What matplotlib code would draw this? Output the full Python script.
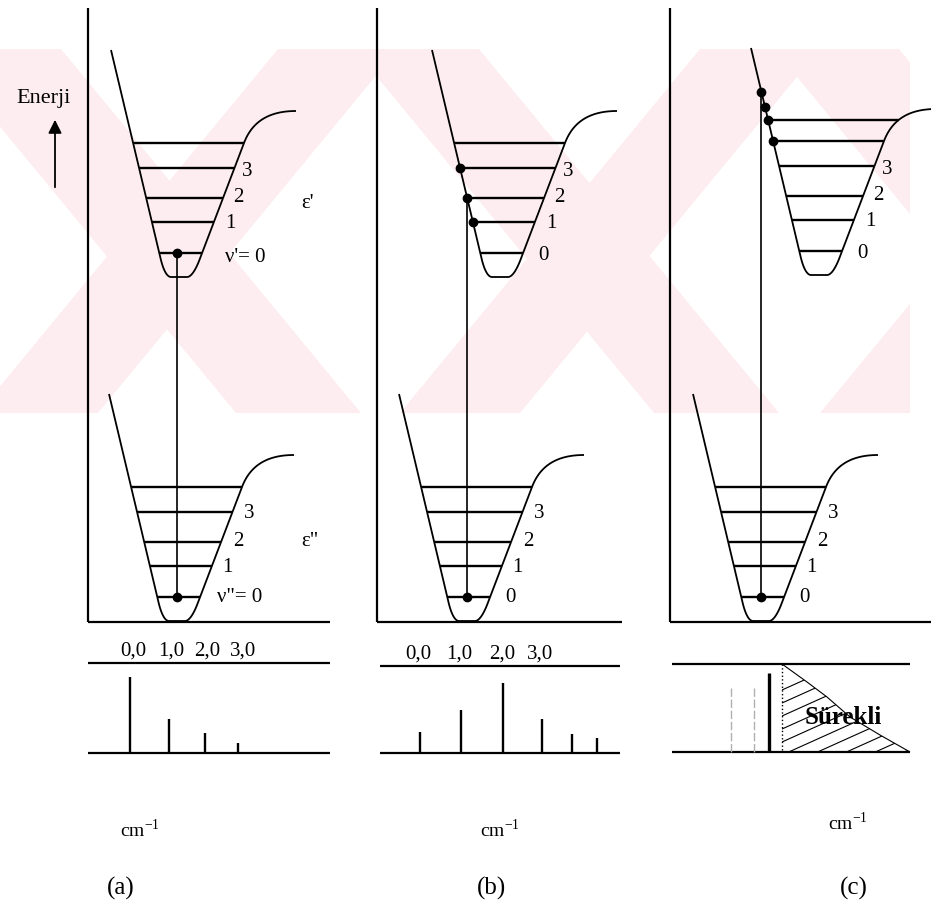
import numpy as np
import matplotlib.pyplot as plt
from matplotlib.patches import Polygon, Rectangle

plt.rcParams['font.family'] = ['Liberation Serif', 'DejaVu Serif']
plt.rcParams['mathtext.fontset'] = 'stix'

# vibrational level heights above the well minimum (px)
level_h = [24, 55, 79, 109, 134]
level_h_c_extra = 155
level_labels = ['0', '1', '2', '3']

# panel positions
axis_x = [88, 377, 670]
panel_right = [330, 622, 931]
upper_cx = [179, 500, 819]
upper_by = [277, 277, 275]
lower_cx = [177, 467, 761]
lower_by = 621

# dots on the upper curve where the vertical transition lands
dots_b = [55, 79, 109]
dots_c = [183, 168, 155, 134]

# spectra (line positions and intensities)
band_labels = ['0,0', '1,0', '2,0', '3,0']
band_label_x_a = [133, 171, 207, 243]
band_label_x_b = [418, 459, 502, 540]
spec_a_x = [130, 169, 205, 238]
spec_a_h = [76, 34, 20, 10]
spec_b_x = [420, 461, 503, 542, 572, 597]
spec_b_h = [21, 43, 70, 34, 19, 15]
spec_c_x = 769
spec_c_h = 79
spec_c_weak_x = [731, 754]
spec_c_weak_h = [64, 64]
cont_x = [782, 807, 827, 850, 880, 910]
cont_h = [88, 70, 55, 35, 17, 0]

# watermark bands (top-left x)
wm_down_right = [-64, 354, 774]
wm_down_left = [278, 700, 1120]


def bez(p0, p1, p2, p3, n=40):
    t = np.linspace(0, 1, n)[:, None]
    p0, p1, p2, p3 = map(np.array, (p0, p1, p2, p3))
    return (1 - t) ** 3 * p0 + 3 * (1 - t) ** 2 * t * p1 + 3 * (1 - t) * t ** 2 * p2 + t ** 3 * p3


def well():
    seg = [np.array([[-68, 227], [-18.3, 18]]),
           bez((-18.3, 18), (-16.5, 10.5), (-13, 0), (-8, 0)),
           np.array([[-8, 0], [8, 0]]),
           bez((8, 0), (13, 0), (17.8, 10), (20.8, 18)),
           np.array([[20.8, 18], [65, 134]]),
           bez((65, 134), (73.7, 157), (92, 166), (117, 166))]
    return np.vstack(seg)


shape = well()
left = shape[shape[:, 0] <= -8][::-1]
right = shape[shape[:, 0] >= 8]


def ends(h):
    return np.interp(h, left[:, 1], left[:, 0]), np.interp(h, right[:, 1], right[:, 0])


fig = plt.figure(figsize=(9.31, 9.08), dpi=100)
ax = fig.add_axes([0, 0, 1, 1])
ax.set_xlim(0, 931)
ax.set_ylim(908, 0)
ax.axis('off')

# faint watermark
pink = '#fdedf0'
clip = Rectangle((0, 49), 910, 364, transform=ax.transData)
for x0 in wm_down_right:
    p = Polygon([(x0, 49), (x0 + 125, 49), (x0 + 425, 413), (x0 + 300, 413)],
                fc=pink, ec='none', zorder=0)
    ax.add_patch(p)
    p.set_clip_path(clip)
for x0 in wm_down_left:
    p = Polygon([(x0, 49), (x0 + 120, 49), (x0 - 180, 413), (x0 - 300, 413)],
                fc=pink, ec='none', zorder=0)
    ax.add_patch(p)
    p.set_clip_path(clip)

k = dict(color='black', solid_capstyle='butt')


def draw_well(cx, by, levels):
    ax.plot(cx + shape[:, 0], by - shape[:, 1], lw=1.3, **k)
    for h in levels:
        xl, xr = ends(h)
        ax.plot([cx + xl, cx + xr], [by - h, by - h], lw=1.7, **k)


for i in range(3):
    ax.plot([axis_x[i], axis_x[i]], [8, 622], lw=1.6, **k)
    ax.plot([axis_x[i], panel_right[i]], [622, 622], lw=1.6, **k)
    draw_well(upper_cx[i], upper_by[i], level_h + ([level_h_c_extra] if i == 2 else []))
    draw_well(lower_cx[i], lower_by, level_h)

# transitions
ax.plot([lower_cx[0]] * 2, [upper_by[0] - level_h[0], lower_by - level_h[0]], lw=1.2, **k)
ax.plot([lower_cx[0]] * 2, [upper_by[0] - level_h[0], lower_by - level_h[0]], 'o', ms=6, color='black')

ax.plot([lower_cx[1]] * 2, [upper_by[1] - dots_b[1], lower_by - level_h[0]], lw=1.2, **k)
ax.plot([upper_cx[1] + ends(h)[0] for h in dots_b], [upper_by[1] - h for h in dots_b], 'o', ms=6, color='black')
ax.plot(lower_cx[1], lower_by - level_h[0], 'o', ms=6, color='black')

ax.plot([lower_cx[2]] * 2, [upper_by[2] - dots_c[0], lower_by - level_h[0]], lw=1.2, **k)
ax.plot([upper_cx[2] + ends(h)[0] for h in dots_c], [upper_by[2] - h for h in dots_c], 'o', ms=6, color='black')
ax.plot(lower_cx[2], lower_by - level_h[0], 'o', ms=6, color='black')

# level labels
fs = 15
up_off = [(43, -21), (51, -53), (59, -80), (68, -105)]
lo_off = [(43, -24), (50, -54), (61, -79), (72, -108)]
for i in range(3):
    for j, lab in enumerate(level_labels):
        if j == 0 and i == 0:
            continue
        ax.text(upper_cx[i] + up_off[j][0], upper_by[i] + up_off[j][1], lab, fontsize=fs, ha='center', va='center')
        ax.text(lower_cx[i] + lo_off[j][0], lower_by + lo_off[j][1], lab, fontsize=fs, ha='center', va='center')
ax.text(upper_cx[0] + 46, upper_by[0] - 19, "ν'= 0", fontsize=fs, ha='left', va='center')
ax.text(lower_cx[0] + 40, lower_by - 24, 'ν"= 0', fontsize=fs, ha='left', va='center')
ax.text(308, 203, "ε'", fontsize=fs, ha='center', va='center')
ax.text(310, 542, 'ε"', fontsize=fs, ha='center', va='center')

ax.text(44, 98, 'Enerji', fontsize=16, ha='center', va='center')
ax.annotate('', xy=(55, 117), xytext=(55, 190),
            arrowprops=dict(arrowstyle='-|>', color='black', lw=1.3, mutation_scale=20))

# spectra
for xs, x0, x1, yt, yb in [(band_label_x_a, 88, 330, 663, 753), (band_label_x_b, 380, 620, 666, 753), (None, 672, 910, 664, 752)]:
    ax.plot([x0, x1], [yt, yt], lw=1.6, **k)
    ax.plot([x0, x1], [yb, yb], lw=1.6, **k)
    if xs:
        for x, lab in zip(xs, band_labels):
            ax.text(x, yt - 12, lab, fontsize=15, ha='center', va='center')

ax.vlines(spec_a_x, [753 - h for h in spec_a_h], 753, color='black', lw=1.7)
ax.vlines(spec_b_x, [753 - h for h in spec_b_h], 753, color='black', lw=1.7)
ax.vlines(spec_c_x, 752 - spec_c_h, 752, color='black', lw=2.4)
ax.vlines(spec_c_weak_x, [752 - h for h in spec_c_weak_h], 752, color='#b0b0b0', lw=1.0, linestyles=(0, (6, 2)))

cont_y = [752 - h for h in cont_h]
ax.vlines(cont_x[0], cont_y[0], 752, color='black', lw=1.0, linestyles=':')
ax.plot(cont_x, cont_y, lw=0.8, **k)
cont_poly = Polygon([(cont_x[0], 752)] + list(zip(cont_x, cont_y)), closed=True, fc='none', ec='none')
ax.add_patch(cont_poly)
hx = np.array([770.0, 930.0])
for c in np.arange(690, 860, 13):
    ln, = ax.plot(hx, c - 0.45 * (hx - cont_x[0]), lw=0.8, color='black')
    ln.set_clip_path(cont_poly)
ax.text(843, 718, 'Sürekli', fontsize=18, fontweight='bold', ha='center', va='center')

# axis captions
for x, y in [(140, 830), (500, 830), (848, 823)]:
    ax.text(x, y, r'cm$^{\mathregular{-1}}$', fontsize=14, ha='center', va='center')
for x, lab in zip([121, 492, 854], ['(a)', '(b)', '(c)']):
    ax.text(x, 888, lab, fontsize=18, ha='center', va='center')

fig.savefig('out.png', dpi=100)
